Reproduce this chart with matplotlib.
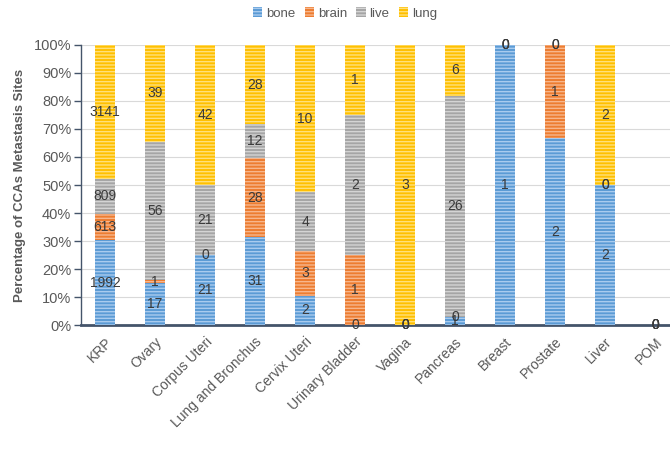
import numpy as np
import matplotlib
matplotlib.use("Agg")
import matplotlib.pyplot as plt

# ── Datos ──────────────────────────────────────────────────────────────────────
categories = ["KRP", "Ovary", "Corpus Uteri", "Lung and Bronchus", "Cervix Uteri",
              "Urinary Bladder", "Vagina", "Pancreas", "Breast", "Prostate",
              "Liver", "POM"]
bone  = [1992, 17, 21, 31, 2, 0, 0, 1, 1, 2, 2, 0]
brain = [613, 1, 0, 28, 3, 1, 0, 0, 0, 1, 0, 0]
live  = [809, 56, 21, 12, 4, 2, 0, 26, 0, 0, 0, 0]
lung  = [3141, 39, 42, 28, 10, 1, 3, 6, 0, 0, 2, 0]
y_ticks = [0, 10, 20, 30, 40, 50, 60, 70, 80, 90, 100]

series = [
    ("bone",  bone,  "#5B9BD5", "#A9CBEE"),
    ("brain", brain, "#ED7D31", "#F7B68C"),
    ("live",  live,  "#A5A5A5", "#D4D4D4"),
    ("lung",  lung,  "#FFC000", "#FFE07A"),
]

plt.rcParams["font.family"] = ["Liberation Sans", "DejaVu Sans"]
plt.rcParams["hatch.linewidth"] = 1.0

TXT = "#595959"
AXC = "#44546A"

fig = plt.figure(figsize=(6.7, 4.54), dpi=100)
ax = fig.add_axes([0.121, 0.284, 0.879, 0.617])

x = np.arange(len(categories))
totals = np.array(bone) + np.array(brain) + np.array(live) + np.array(lung)
safe = np.where(totals == 0, 1, totals)

# barras apiladas al 100 % con la cifra absoluta en el centro de cada tramo
bottom = np.zeros(len(categories))
for name, vals, color, stripe in series:
    v = np.array(vals, dtype=float)
    pct = v / safe * 100
    ax.bar(x, pct, 0.4, bottom=bottom, color=color, edgecolor=stripe,
           linewidth=0, hatch="-----", label=name, zorder=3)
    for xi, b, p, raw in zip(x, bottom, pct, vals):
        ax.text(xi, b + p / 2, f"{raw}", ha="center", va="center",
                fontsize=10, color="#3A3A3A", zorder=4)
    bottom = bottom + pct

ax.set_xlim(-0.48, 11.3)
ax.set_ylim(0, 100)
ax.set_yticks(y_ticks)
ax.set_yticklabels([f"{t}%" for t in y_ticks], fontsize=10.5, color=TXT)
ax.set_xticks(x)
ax.set_xticklabels(categories, rotation=45, ha="right", rotation_mode="anchor",
                   fontsize=10, color=TXT)
ax.tick_params(axis="x", length=0, pad=7)
ax.tick_params(axis="y", length=5, width=1, color=AXC, direction="out", pad=2)

ax.grid(axis="y", color="#D9D9D9", linewidth=0.8, zorder=0)
ax.set_axisbelow(True)
for s in ["top", "right"]:
    ax.spines[s].set_visible(False)
ax.spines["left"].set_color(AXC)
ax.spines["left"].set_linewidth(1.0)
ax.spines["bottom"].set_color(AXC)
ax.spines["bottom"].set_linewidth(2.0)

ax.set_ylabel("Percentage of CCAs Metastasis Sites", fontsize=9.5,
              fontweight="bold", color=TXT, labelpad=6)

fig.legend(loc="upper center", bbox_to_anchor=(0.515, 1.01), ncol=4,
           frameon=False, fontsize=9.5, handlelength=0.7, handleheight=0.7,
           handletextpad=0.3, columnspacing=0.7, labelcolor=TXT)

fig.savefig("out.png", dpi=100)
